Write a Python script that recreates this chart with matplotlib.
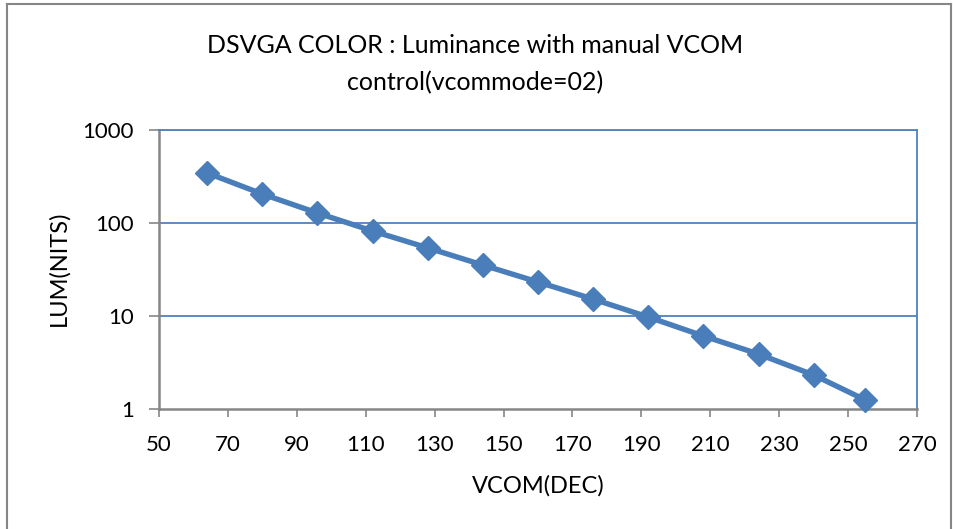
import matplotlib
matplotlib.use("Agg")
import matplotlib.pyplot as plt
from matplotlib.lines import Line2D
from matplotlib.ticker import FixedLocator, NullLocator, FixedFormatter

vcom = [64, 80, 96, 112, 128, 144, 160, 176, 192, 208, 224, 240, 255]
lum = [345, 205, 128, 82, 54, 35.3, 23.2, 15.2, 9.75, 6.1, 3.9, 2.32, 1.25]
xticks = [50, 70, 90, 110, 130, 150, 170, 190, 210, 230, 250, 270]
yticks = [1, 10, 100, 1000]
ytick_labels = ["1", "10", "100", "1000"]
title = "DSVGA COLOR : Luminance with manual VCOM\ncontrol(vcommode=02)"

plt.rcParams['font.family'] = ['Lato', 'DejaVu Sans']
W, H = 954, 529
fig = plt.figure(figsize=(W/100, H/100), dpi=100)
ax = fig.add_axes([159/W, 1-409/H, (917-159)/W, (409-130)/H])

blue = "#4A7EBB"
grid_blue = "#4F81BD"
grey = "#868686"

ax.plot(vcom, lum, color=blue, lw=3.9, marker="D", ms=12.5, mfc=blue, mec=blue, zorder=5, clip_on=False)
ax.set_yscale("log")
ax.set_xlim(50, 270)
ax.set_ylim(1, 1000)
ax.xaxis.set_major_locator(FixedLocator(xticks))
ax.yaxis.set_major_locator(FixedLocator(yticks))
ax.yaxis.set_major_formatter(FixedFormatter(ytick_labels))
ax.yaxis.set_minor_locator(NullLocator())
ax.tick_params(axis="both", direction="out", width=1.2, color=grey, labelsize=16)
ax.tick_params(axis="x", length=6, pad=12.5)
ax.tick_params(axis="y", length=7, pad=11)
for y in [10, 100, 1000]:
    ax.axhline(y, color=grid_blue, lw=1.3, zorder=1)
ax.spines["left"].set_color(grey)
ax.spines["bottom"].set_color(grey)
ax.spines["left"].set_linewidth(1.8)
ax.spines["bottom"].set_linewidth(1.8)
ax.spines["top"].set_color(grid_blue)
ax.spines["right"].set_color(grid_blue)
ax.spines["top"].set_linewidth(1.3)
ax.spines["right"].set_linewidth(1.3)

ax.set_xlabel("VCOM(DEC)", fontsize=17, labelpad=15)
fig.text(59/W, 1-268/H, "LUM(NITS)", rotation=90, ha="center", va="center", fontsize=17)
fig.text(475/W, 1-64/H, title, ha="center", va="center", fontsize=18, linespacing=1.7)

# outer border
fig.add_artist(Line2D([7/W, 7/W], [0, 1-4/H], color=grey, lw=1.5))
fig.add_artist(Line2D([7/W, 951/W], [1-4/H, 1-4/H], color=grey, lw=1.5))
fig.add_artist(Line2D([951/W, 951/W], [0, 1-4/H], color=grey, lw=1.5))

fig.savefig("out.png", dpi=100, facecolor="white")
